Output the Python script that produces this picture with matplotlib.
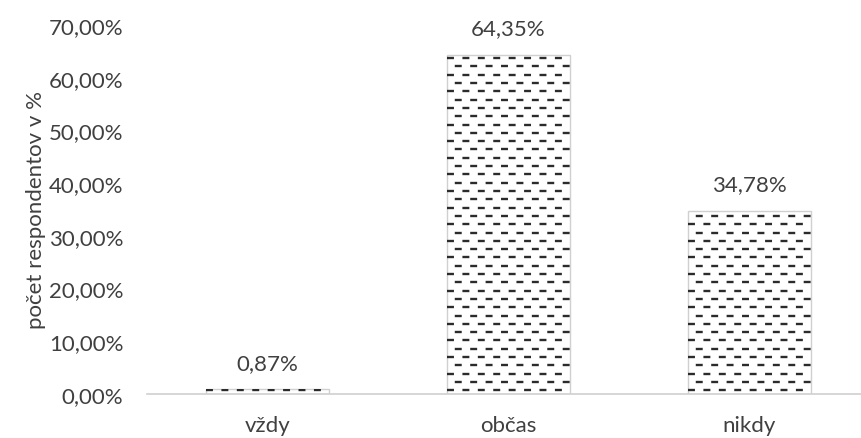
import matplotlib
matplotlib.use('Agg')
import matplotlib.pyplot as plt
import numpy as np

# data
categories = ['vždy', 'občas', 'nikdy']
values = [0.87, 64.35, 34.78]
yticks = [0, 10, 20, 30, 40, 50, 60, 70]

plt.rcParams['font.family'] = ['Lato', 'DejaVu Sans']
plt.rcParams['lines.scale_dashes'] = False

fig = plt.figure(figsize=(8.62, 4.39), dpi=100)
ax = fig.add_axes([147 / 862, 44 / 439, 723 / 862, 369 / 439])

x = np.arange(len(categories))
bars = ax.bar(x, values, width=0.51, color='white', edgecolor='#d0d0d0', linewidth=1.0, zorder=2)

# dashed "hatch" clipped to each bar, rows staggered
step = 1.575
for b in bars:
    ys = np.arange(b.get_y() + step * 0.45, b.get_y() + b.get_height(), step)
    for i, yy in enumerate(ys):
        off = 0 if i % 2 == 0 else 5.5
        ln, = ax.plot([b.get_x(), b.get_x() + b.get_width()], [yy, yy],
                      color='#2b2b2b', lw=1.7, solid_capstyle='butt',
                      dash_capstyle='butt',
                      linestyle=(off, (5.0, 6.1)), zorder=3)
        ln.set_clip_path(b)

for xi, v in zip(x, values):
    ax.annotate(f'{v:.2f}%'.replace('.', ','), (xi, v), xytext=(0, 12),
                textcoords='offset points', ha='center', va='bottom',
                fontsize=16, color='#404040')

ax.set_xlim(-0.5, 2.5)
ax.set_ylim(0, 70)
ax.set_yticks(yticks)
ax.set_yticklabels([f'{t},00%' for t in yticks])
ax.set_xticks(x)
ax.set_xticklabels(categories)
ax.tick_params(axis='both', length=0, labelsize=16, labelcolor='#404040')
ax.tick_params(axis='y', pad=17)
ax.tick_params(axis='x', pad=15)
ax.set_ylabel('počet respondentov v %', fontsize=16, color='#404040', labelpad=2)

for s in ['top', 'right', 'left']:
    ax.spines[s].set_visible(False)
ax.spines['bottom'].set_color('#d0d0d0')
ax.spines['bottom'].set_linewidth(1.2)

fig.savefig('out.png', dpi=100)
